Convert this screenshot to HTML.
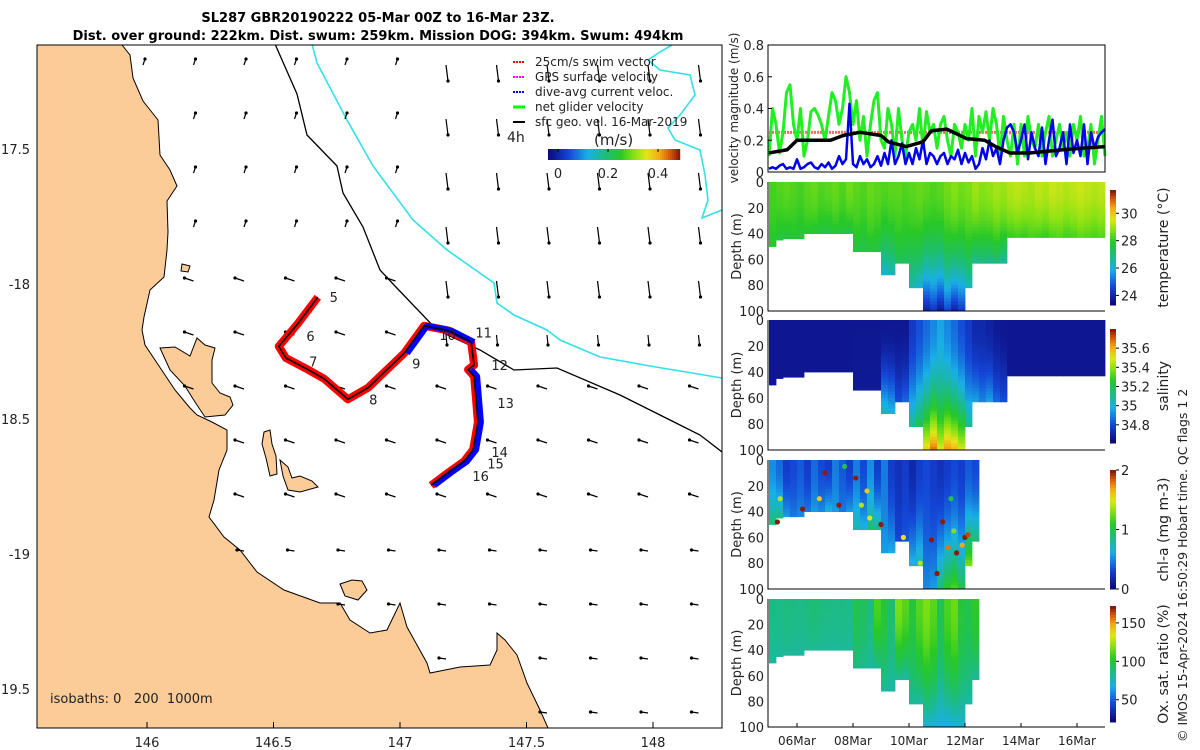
<!DOCTYPE html>
<html><head><meta charset="utf-8">
<style>
html,body{margin:0;padding:0;background:#fff;}
svg{display:block;font-family:"DejaVu Sans","Liberation Sans",sans-serif;}
.t{font-size:13px;fill:#222;}
</style></head>
<body>
<svg id="fig" width="1200" height="750" viewBox="0 0 1200 750">
<g>
<text x="378" y="22" text-anchor="middle" font-weight="bold" font-size="13">SL287 GBR20190222 05-Mar 00Z to 16-Mar 23Z.</text>
<text x="378" y="40" text-anchor="middle" font-weight="bold" font-size="13">Dist. over ground: 222km. Dist. swum: 259km. Mission DOG: 394km. Swum: 494km</text>
</g>
<g id="map">
<defs><clipPath id="mapclip"><rect x="37" y="45" width="685" height="683"/></clipPath></defs>
<g clip-path="url(#mapclip)">
<path id="land" fill="#fbcb98" stroke="#000" stroke-width="1" d="M37,45 L122,45 L130,55 L133,78 L143,101 L158,120 L160,155 L170,170 L177,186 L167,201 L168,232 L167,250 L164,277 L150,290 L144,317 L142,330 L145,345 L155,360 L165,375 L175,390 L190,408 L197,415 L212,422 L227,430 L227,450 L219,470 L214,500 L209,517 L224,537 L240,550 L257,572 L284,590 L320,603 L340,603 L350,620 L370,633 L387,630 L400,603 L407,627 L427,663 L430,673 L460,667 L490,665 L497,650 L497,633 L505,640 L517,655 L527,683 L540,710 L548,728 L37,728 Z"/>
<path fill="#fbcb98" stroke="#000" stroke-width="1" d="M160,348 L175,347 L190,356 L197,338 L205,345 L215,348 L212,360 L212,383 L220,393 L230,397 L233,405 L225,415 L205,417 L195,402 L185,386 L170,370 Z"/>
<path fill="#fbcb98" stroke="#000" stroke-width="1" d="M264,432 L270,430 L272,444 L276,456 L277,474 L270,476 L266,458 L262,444 Z"/>
<path fill="#fbcb98" stroke="#000" stroke-width="1" d="M280,460 L288,467 L292,478 L300,476 L312,481 L318,487 L300,492 L288,490 L283,476 Z"/>
<path fill="#fbcb98" stroke="#000" stroke-width="1" d="M340,584 L352,580 L362,581 L367,590 L358,600 L345,596 Z"/>
<path fill="#fbcb98" stroke="#000" stroke-width="1" d="M182,264 L190,266 L188,272 L181,271 Z"/>
<path fill="none" stroke="#000" stroke-width="1.3" d="M275,44 L297,94 L307,135 L337,166 L343,193 L363,227 L380,270 L394,285 L437,330 L480,350 L514,370 L557,368 L620,395 L670,420 L700,435 L722,452"/>
<path fill="none" stroke="#33e0e8" stroke-width="1.6" d="M312,44 L317,63 L347,120 L373,166 L413,220 L447,250 L494,283 L497,303 L514,315 L547,330 L560,340 L600,357 L650,366 L722,378"/>
<path fill="none" stroke="#33e0e8" stroke-width="1.6" d="M672,45 L660,52 L648,60 L660,70 L690,75 L695,95 L680,115 L668,128 L675,140 L700,150 L705,175 L708,200 L702,218 L722,210"/>
<g id="arrows"></g>
<g id="track"></g>
</g>
<rect x="37" y="45" width="685" height="683" fill="none" stroke="#000" stroke-width="1"/>
<g id="mapticks"></g>
<text x="50" y="703" font-size="13" fill="#222" style="white-space:pre">isobaths: 0   200  1000m</text>
<g>
<line x1="513" y1="62" x2="525" y2="62" stroke="#f00" stroke-width="2" stroke-dasharray="2,1"/>
<text x="535" y="66" font-size="12" fill="#222">25cm/s swim vector</text>
<line x1="513" y1="77" x2="525" y2="77" stroke="#f0f" stroke-width="2" stroke-dasharray="2,1"/>
<text x="535" y="81" font-size="12" fill="#222">GPS surface velocity</text>
<line x1="513" y1="92" x2="525" y2="92" stroke="#00f" stroke-width="2" stroke-dasharray="2,1"/>
<text x="535" y="96" font-size="12" fill="#222">dive-avg current veloc.</text>
<line x1="513" y1="107" x2="525" y2="107" stroke="#0f0" stroke-width="3"/>
<text x="535" y="111" font-size="12" fill="#222">net glider velocity</text>
<line x1="513" y1="122" x2="525" y2="122" stroke="#000" stroke-width="2"/>
<text x="535" y="126" font-size="12" fill="#222">sfc geo. vel. 16-Mar-2019</text>
<text x="507" y="142" font-size="14" fill="#222">4h</text>
<text x="594" y="145" font-size="15" fill="#222">(m/s)</text>
<g id="speedcb"></g>
</g>
</g>
<g id="vel"></g>
<g id="heat"></g>
<text transform="translate(1187,742) rotate(-90)" font-size="12.5" fill="#222">© IMOS 15-Apr-2024 16:50:29 Hobart time. QC flags 1  2</text>
</svg>
<script>
const NS="http://www.w3.org/2000/svg";
function mk(tag,attrs,parent){const e=document.createElementNS(NS,tag);for(const k in attrs)e.setAttribute(k,attrs[k]);parent.appendChild(e);return e;}
function txt(s,attrs,parent){const e=mk('text',attrs,parent);e.textContent=s;return e;}

const cmStops=[[0,[12,10,125]],[0.15,[20,70,215]],[0.3,[25,175,230]],[0.45,[30,190,110]],[0.55,[40,200,40]],[0.65,[130,225,20]],[0.75,[225,230,25]],[0.85,[245,170,20]],[0.93,[215,90,10]],[1,[140,25,10]]];
function cmap(t){t=Math.max(0,Math.min(1,t));for(let i=1;i<cmStops.length;i++){if(t<=cmStops[i][0]){const a=cmStops[i-1],b=cmStops[i];const f=(t-a[0])/(b[0]-a[0]);const c=a[1].map((v,k)=>Math.round(v+(b[1][k]-v)*f));return `rgb(${c[0]},${c[1]},${c[2]})`;}}return 'rgb(140,25,10)';}

// ---------- map axes ----------
const lonTicks=[146,146.5,147,147.5,148];
const latTicks=[17.5,18,18.5,19,19.5];
const latLabels=["17.5","-18","18.5","-19","19.5"];
function lonX(l){return 147+(l-146)*253;}
function latY(l){return 149+(l-17.5)*270;}
const mt=document.getElementById('mapticks');
lonTicks.forEach(l=>{const x=lonX(l);
 const ln=mk('line',{x1:x,y1:728,x2:x,y2:722,stroke:'#000'},mt);
 
 
 const t=txt(String(l),{x:x,y:747,'text-anchor':'middle',class:'t'},mt);
 
 });
latTicks.forEach((l,i)=>{const y=latY(l);
 const t=txt(latLabels[i],{x:30,y:y+5,'text-anchor':'end',class:'t'},mt);
 
 });

// ---------- arrows ----------
const landPath=document.getElementById('land');
const ag=document.getElementById('arrows');
for(let r=0;r<13;r++){for(let k=0;k<12;k++){
 const x=143+50.5*k,y=65+54*r;
 let inland=false;try{inland=landPath.isPointInFill(new DOMPoint(x,y));}catch(e){}
 if(inland)continue;
 let dx,dy;
 if(x>420&&y<300){dx=2;dy=16;}
 else if(x>420&&y<340){dx=1;dy=10;}
 else if(y<270){dx=2;dy=-6;}
 else if(y<520){dx=-9;dy=-3;}
 else {dx=-7;dy=-1;}
 const a=mk('line',{x1:x,y1:y,x2:x+dx,y2:y+dy,stroke:'#000','stroke-width':1.2},ag);
 
 
 const h=mk('circle',{cx:x+dx,cy:y+dy,r:1.6,fill:'#000'},ag);
 
 
}}

// ---------- track ----------
const trackLon=[146.675,146.596,146.521,146.549,146.636,146.700,146.794,146.874,147.016,147.095,147.190,147.281,147.293,147.269,147.293,147.308,147.289,147.253,147.190,147.123];
const trackLat=[18.049,18.147,18.231,18.274,18.317,18.351,18.427,18.384,18.257,18.155,18.172,18.215,18.300,18.317,18.342,18.512,18.614,18.657,18.699,18.746];
const dayLabels=["5","6","7","8","9","10","11","12","13","14","15","16"];
const dayLabelLon=[146.722,146.630,146.641,146.878,147.048,147.155,147.298,147.361,147.385,147.361,147.345,147.286];
const dayLabelLat=[18.049,18.193,18.287,18.427,18.295,18.189,18.180,18.300,18.440,18.623,18.665,18.712];
const tg=document.getElementById('track');
const pts=trackLon.map((l,i)=>[lonX(l),latY(trackLat[i])]);
const pstr=pts.map(p=>p.join(',')).join(' ');
const red=mk('polyline',{points:pstr,fill:'none',stroke:'#f00','stroke-width':8,'stroke-linejoin':'round'},tg);


const blueIdx=[[8,11],[13,19]];
blueIdx.forEach(([a,b])=>{const bl=mk('polyline',{points:pts.slice(a,b+1).map(p=>(p[0]+3)+','+p[1]).join(' '),fill:'none',stroke:'#00f','stroke-width':6,'stroke-linejoin':'round'},tg);
 
 });
const bk=mk('polyline',{points:pstr,fill:'none',stroke:'#000','stroke-width':1.6},tg);


dayLabels.forEach((s,i)=>{const t=txt(s,{x:lonX(dayLabelLon[i]),y:latY(dayLabelLat[i])+5,class:'t'},tg);
 
 });

const scb=document.getElementById('speedcb');
for(let i=0;i<66;i++){const r=mk('rect',{x:548+i*2,y:149,width:2.2,height:11,fill:cmap(i/65)},scb);
 
 }
const spTicks=[0,0.2,0.4];
spTicks.forEach(v=>{const x=558+v*250;
 const t=txt(String(v),{x:x,y:178,'text-anchor':'middle',class:'t'},scb);
 
 
 const l=mk('line',{x1:x,y1:149,x2:x,y2:152,stroke:'#000'},scb);
 
 });

// ---------- time axis ----------
const X0=769,PXD=28;
function tx(d){return X0+d*PXD;}
const dateTicks=[1,3,5,7,9,11];
const dateLabels=["06Mar","08Mar","10Mar","12Mar","14Mar","16Mar"];

// ---------- velocity panel ----------
const velTicks=[0,0.2,0.4,0.6,0.8];
const netVel=[.1,.4,.3,.12,.25,.5,.55,.3,
 .2,.4,.1,.2,.38,.4,.36,.3,
 .2,.35,.5,.45,.3,.4,.6,.5,
 .3,.45,.2,.35,.1,.3,.45,.5,
 .2,.15,.4,.3,.1,.4,.2,.1,
 .25,.3,.2,.4,.15,.38,.25,.3,
 .15,.3,.35,.2,.1,.3,.25,.15,
 .3,.2,.4,.1,.35,.25,.38,.2,
 .4,.3,.1,.35,.2,.1,.3,.05,
 .3,.1,.35,.2,.15,.3,.1,.25,
 .35,.1,.2,.3,.15,.25,.1,.3,
 .2,.35,.1,.15,.3,.05,.2,.35,.1];
const dacVel=[.02,.03,.02,.04,.05,.02,.03,.02,
 .08,.02,.03,.05,.06,.03,.02,.05,
 .03,.06,.02,.04,.1,.05,.08,.43,
 .05,.03,.1,.05,.08,.03,.05,.1,
 .04,.12,.05,.2,.05,.1,.18,.05,
 .12,.05,.15,.08,.2,.05,.12,.1,
 .05,.1,.12,.05,.1,.08,.14,.05,
 .12,.06,.1,.02,.05,.15,.08,.2,
 .1,.15,.05,.2,.28,.3,.25,.12,
 .2,.3,.08,.25,.15,.1,.28,.05,
 .2,.33,.1,.15,.25,.05,.3,.12,
 .2,.1,.3,.05,.25,.15,.22,.25,.27];
const meanDays=[0,0.65,1.0,2.2,2.65,3.25,4.0,4.26,4.9,5.5,5.8,6.35,7.06,7.7,8.1,8.6,9.3,10.5,11.2,12];
const meanVel=[.12,.14,.20,.20,.23,.25,.23,.19,.16,.19,.26,.27,.21,.20,.16,.12,.12,.14,.15,.16];
const swimSpeed=0.25;
const vg=document.getElementById('vel');
const VT=45,VB=172;
function vy(v){return VB-v/0.8*(VB-VT);}
function series(arr,daysFn,color,w,name){const p=arr.map((v,i)=>tx(daysFn(i))+','+vy(v)).join(' ');
 const e=mk('polyline',{points:p,fill:'none',stroke:color,'stroke-width':w,'stroke-linejoin':'round'},vg);
 
 }
const sl=mk('line',{x1:tx(0),x2:tx(12),y1:vy(swimSpeed),y2:vy(swimSpeed),stroke:'#f66','stroke-width':3,'stroke-dasharray':'2,1'},vg);


series(netVel,i=>i*0.125,'#22ee22',3,'net-velocity-series');
series(dacVel,i=>i*0.125,'#0000ee',2.5,'dive-avg-current-series');
series(meanVel,i=>meanDays[i],'#000',3.5,'mean-velocity-series');
const vf=mk('rect',{x:768,y:VT,width:337,height:VB-VT,fill:'none',stroke:'#000'},vg);


velTicks.forEach(v=>{const t=txt(String(v),{x:764,y:vy(v)+5,'text-anchor':'end',class:'t'},vg);
 
 
 const l=mk('line',{x1:768,x2:772,y1:vy(v),y2:vy(v),stroke:'#000'},vg);
 
 });
const vyl=txt('velocity magnitude (m/s)',{transform:'translate(738,108) rotate(-90)','text-anchor':'middle','font-size':'12',fill:'#222'},vg);



// ---------- section panels ----------
const bottomDepth=[50,45,44,44,44,40,40,40,40,40,40,40,54,54,54,54,72,72,63,63,82,82,100,100,100,100,100,100,82,63,63,63,63,63,43,43,43,43,43,43,43,43,43,43,43,43,43,43];
const tempSurf=[28.2,28.3,28.4,28.3,28.2,28.4,28.5,28.3,28.4,28.5,28.3,28.6,28.4,28.3,28.5,28.4,28.3,28.4,28.4,28.3,28.4,28.5,28.4,28.3,28.4,28.6,28.8,28.6,28.7,29.0,28.8,28.9,29.1,29.0,29.2,29.3,29.2,29.1,29.3,29.2,29.4,29.3,29.2,29.3,29.4,29.3,29.2,29.3];
const tempBot=[27.8,27.6,27.6,27.7,27.6,27.8,27.7,27.6,27.5,27.7,27.6,27.5,27.5,27.4,27.6,27.5,26.0,26.2,27.3,27.2,26.3,26.0,23.8,24.2,23.6,24.5,23.8,24.3,26.2,26.6,26.8,26.7,26.9,26.5,28.0,28.1,28.0,28.2,28.1,28.0,28.2,28.3,28.1,28.2,28.4,28.3,28.2,28.3];
const salSurf=[34.65,34.65,34.65,34.65,34.65,34.65,34.65,34.65,34.65,34.65,34.65,34.65,34.65,34.65,34.65,34.65,34.65,34.65,34.65,34.65,34.75,34.8,34.85,34.9,34.95,34.9,34.85,34.8,34.75,34.7,34.7,34.68,34.66,34.65,34.65,34.65,34.65,34.65,34.65,34.65,34.65,34.65,34.65,34.65,34.65,34.65,34.65,34.65];
const salBot=[34.65,34.65,34.65,34.65,34.65,34.65,34.65,34.65,34.65,34.65,34.65,34.65,34.66,34.66,34.66,34.66,35.05,35.0,34.8,34.85,35.1,35.2,35.55,35.7,35.5,35.65,35.6,35.5,35.1,34.95,34.9,34.95,34.85,34.8,34.65,34.65,34.65,34.65,34.65,34.65,34.65,34.65,34.65,34.65,34.65,34.65,34.65,34.65];
const chlSurf=[0.5,0.4,0.25,0.3,0.35,0.25,0.4,0.3,0.25,0.45,0.35,0.25,0.45,0.3,0.5,0.25,0.45,0.25,0.2,0.25,0.15,0.25,0.3,0.25,0.2,0.25,0.3,0.25,0.35,0.3];
const chlBot=[0.9,0.85,0.55,0.45,0.5,0.45,0.55,0.5,0.65,0.55,0.45,0.55,0.75,0.65,0.9,0.85,0.55,0.6,0.3,0.35,0.65,0.75,0.5,0.55,0.9,1.1,1.2,1.0,1.3,0.9];
const oxySurf=[85,84,86,85,84,86,88,86,85,84,85,84,95,92,85,110,100,88,118,112,100,112,118,112,95,110,115,100,96,105];
const oxyBot=[80,80,81,80,80,82,82,81,80,80,81,80,85,82,80,82,80,78,80,78,80,78,70,68,66,65,68,70,78,80];
const chlDotDay=[0.3,0.4,1.2,1.8,2.0,2.5,2.7,3.1,3.3,3.5,3.6,4.0,4.8,5.4,5.8,6.0,6.2,6.4,6.6,6.7,6.9,7.0,7.1,6.5];
const chlDotDepth=[48,30,38,30,10,35,5,14,35,24,45,50,60,80,62,88,48,68,55,72,66,60,58,30];
const chlDotVal=[2,1.4,2,1.6,2,2,1,2,1.4,1.6,1.5,2,1.5,1.4,2,2,2,1.8,1.3,2,1.7,2,1.9,1];
const depthTicks=[0,20,40,60,80,100];
const panels=[
 {name:'temperature',top:182,bot:311,surf:tempSurf,botv:tempBot,vmin:23.3,vmax:31.7,ticks:[24,26,28,30],labels:["24","26","28","30"],title:'temperature (°C)',cbTop:190,cbBot:305,nbin:48},
 {name:'salinity',top:320,bot:450,surf:salSurf,botv:salBot,vmin:34.61,vmax:35.8,ticks:[34.8,35,35.2,35.4,35.6],labels:["34.8","35","35.2","35.4","35.6"],title:'salinity',cbTop:329,cbBot:443,nbin:48},
 {name:'chl-a',top:460,bot:589,surf:chlSurf,botv:chlBot,vmin:0,vmax:2,ticks:[0,1,2],labels:["0","1","2"],title:'chl-a (mg m-3)',cbTop:470,cbBot:589,nbin:30},
 {name:'oxygen',top:599,bot:727,surf:oxySurf,botv:oxyBot,vmin:21,vmax:172,ticks:[50,100,150],labels:["50","100","150"],title:'Ox. sat. ratio (%)',cbTop:606,cbBot:722,nbin:30}
];
const hg=document.getElementById('heat');
panels.forEach((P,pi)=>{
 const g=mk('g',{},hg);
 
 
 const dy=z=>P.top+z/100*(P.bot-P.top);
 const norm=v=>(v-P.vmin)/(P.vmax-P.vmin);
 for(let i=0;i<P.nbin;i++){
  const D=bottomDepth[i];
  for(let z=0;z<D;z+=2.5){
   const f=Math.pow(Math.min(1,(z+1.25)/D),2);
   const v=P.surf[i]+(P.botv[i]-P.surf[i])*f;
   const r=mk('rect',{x:tx(i*0.25),y:dy(z),width:PXD*0.25+0.4,height:dy(Math.min(D,z+2.5))-dy(z)+0.4,fill:cmap(norm(v))},g);
   
   
  }
 }
 if(P.name==='chl-a'){chlDotDay.forEach((d,i)=>{const c=mk('circle',{cx:tx(d),cy:dy(chlDotDepth[i]),r:2.6,fill:cmap(norm(chlDotVal[i]))},g);
  
  });}
 const ax=mk('path',{d:`M768,${P.top} L768,${P.bot} L1105,${P.bot}`,fill:'none',stroke:'#000'},g);
 
 
 depthTicks.forEach(z=>{const t=txt(String(z),{x:764,y:dy(z)+5,'text-anchor':'end',class:'t'},g);
  
  });
 const yl=txt('Depth (m)',{transform:`translate(741,${(P.top+P.bot)/2}) rotate(-90)`,'text-anchor':'middle',class:'t'},g);
 
 
 for(let k=0;k<40;k++){const y=P.cbTop+k*(P.cbBot-P.cbTop)/40;
  const r=mk('rect',{x:1110,y:y,width:6,height:(P.cbBot-P.cbTop)/40+0.5,fill:cmap(1-k/39)},g);
  
  }
 P.ticks.forEach((v,k)=>{const y=P.cbBot-norm(v)*(P.cbBot-P.cbTop);
  const l=mk('line',{x1:1116,x2:1119,y1:y,y2:y,stroke:'#000'},g);
  
  
  const t=txt(P.labels[k],{x:1121,y:y+5,class:'t'},g);
  
  });
 const ct=txt(P.title,{transform:`translate(1168,${(P.cbTop+P.cbBot)/2}) rotate(-90)`,'text-anchor':'middle','font-size':'14',fill:'#222'},g);
 
 
});
dateTicks.forEach((d,i)=>{const x=tx(d);
 const l=mk('line',{x1:x,x2:x,y1:727,y2:723,stroke:'#000'},hg);
 
 
 const t=txt(dateLabels[i],{x:x,y:745,'text-anchor':'middle','font-size':'12',fill:'#222'},hg);
 
 });
</script>
</body></html>
